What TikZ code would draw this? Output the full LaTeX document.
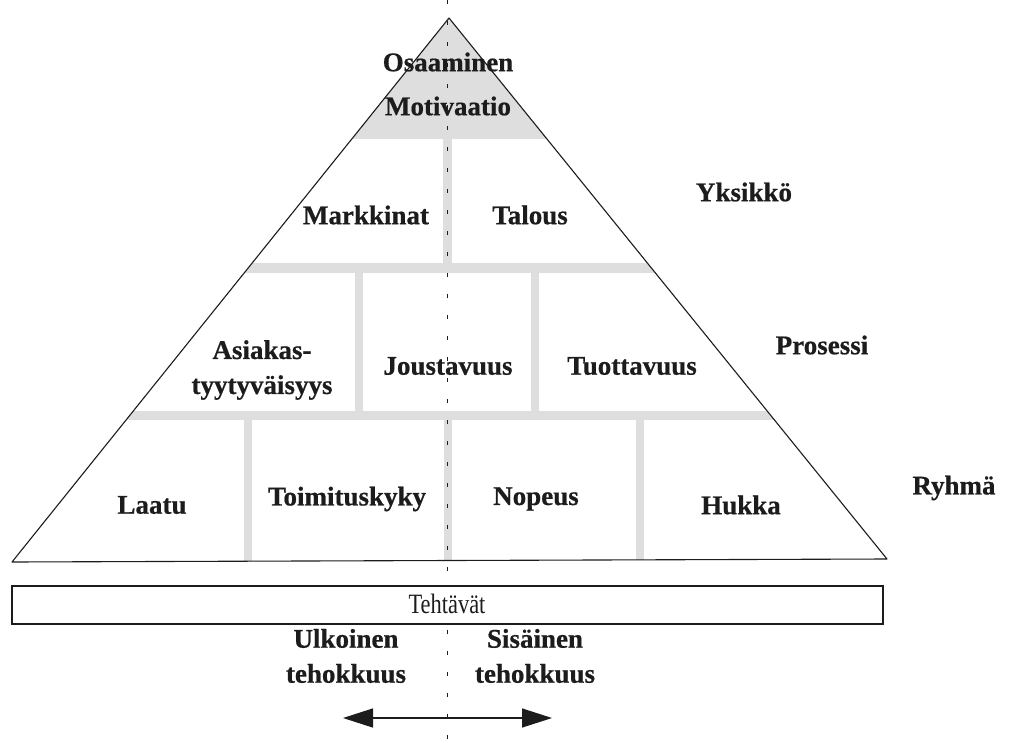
\documentclass[tikz,border=0pt]{standalone}
\usepackage{fontspec}
\setmainfont{Liberation Serif}
\newfontfamily\heavyserif{Liberation Serif}[UprightFont=*-Bold, FakeBold=0.6]
\usetikzlibrary{arrows.meta}
\definecolor{bandgray}{RGB}{222,222,222}
\definecolor{inkgray}{RGB}{28,28,28}
\begin{document}
\begin{tikzpicture}[x=1pt,y=-1pt,
  lbl/.style={font=\fontsize{27}{35}\heavyserif, align=center, inner sep=0pt, text=inkgray},
  plain/.style={font=\fontsize{28}{30}\selectfont, inner sep=0pt, text=inkgray},
  band/.style={fill=bandgray, draw=none},
  outline/.style={draw=inkgray, line width=1.1pt, line join=round},
  axis/.style={draw=inkgray, line width=0.8pt, dash pattern=on 4pt off 17pt},
  flow/.style={draw=inkgray, line width=1.3pt, {Triangle[length=30pt,width=19pt]}-{Triangle[length=30pt,width=19pt]}}]
\useasboundingbox (0,0) rectangle (1013,750);
\fill[white] (0,0) rectangle (1013,750);

% corners of the pyramid
\coordinate (apex) at (449,18);
\coordinate (bl) at (12,562);
\coordinate (br) at (887,559);

% grey cap and separating bands, cut to the pyramid
\begin{scope}
  \clip (apex) -- (bl) -- (br) -- cycle;
  \fill[band] (0,0) rectangle (1013,139);
  \fill[band] (443,139) rectangle (452,265);
  \fill[band] (0,263) rectangle (1013,273);
  \fill[band] (355,273) rectangle (363,413);
  \fill[band] (531,273) rectangle (539,413);
  \fill[band] (0,411) rectangle (1013,420);
  \fill[band] (244,420) rectangle (252,562);
  \fill[band] (444,420) rectangle (452,562);
  \fill[band] (636,420) rectangle (644,562);
\end{scope}

% dashed centre axis
\coordinate (axtop) at (447,0);
\coordinate (axbot) at (447,750);
\draw[axis] (axtop) -- (axbot);

\draw[outline] (apex) -- (bl) -- (br) -- cycle;

% task bar
\node[draw=inkgray, line width=1.3pt, minimum width=871pt, minimum height=38pt, inner sep=0pt, fill=white] (tasks) at (447.5,605) {};
\node[plain] (tasklbl) at (447,604) {\scalebox{0.8}[1]{Tehtävät}};

% pyramid labels
\node[lbl] (osa) at (448,84) {Osaaminen\\[9pt]Motivaatio};
\node[lbl] (mark) at (366,215) {Markkinat};
\node[lbl] (tal) at (530,215) {Talous};
\node[lbl] (asi) at (262,370) {Asiakas-\\tyytyväisyys};
\node[lbl] (jou) at (448,366) {Joustavuus};
\node[lbl] (tuo) at (632,366) {Tuottavuus};
\node[lbl] (laa) at (152,505) {Laatu};
\node[lbl] (toi) at (347,499) {Toimituskyky};
\node[lbl] (nop) at (536,499) {Nopeus};
\node[lbl] (huk) at (741,505) {Hukka};

% level labels
\node[lbl] (yks) at (744,192) {Yksikkö};
\node[lbl] (pro) at (822,345) {Prosessi};
\node[lbl] (ryh) at (954,488) {Ryhmä};

% efficiency labels and arrow
\node[lbl] (ulk) at (346,656) {Ulkoinen\\tehokkuus};
\node[lbl] (sis) at (535,656) {Sisäinen\\tehokkuus};
\coordinate (arl) at (343,718);
\coordinate (arr) at (552,718);
\draw[flow] (arl) -- (arr);
\end{tikzpicture}
\end{document}
